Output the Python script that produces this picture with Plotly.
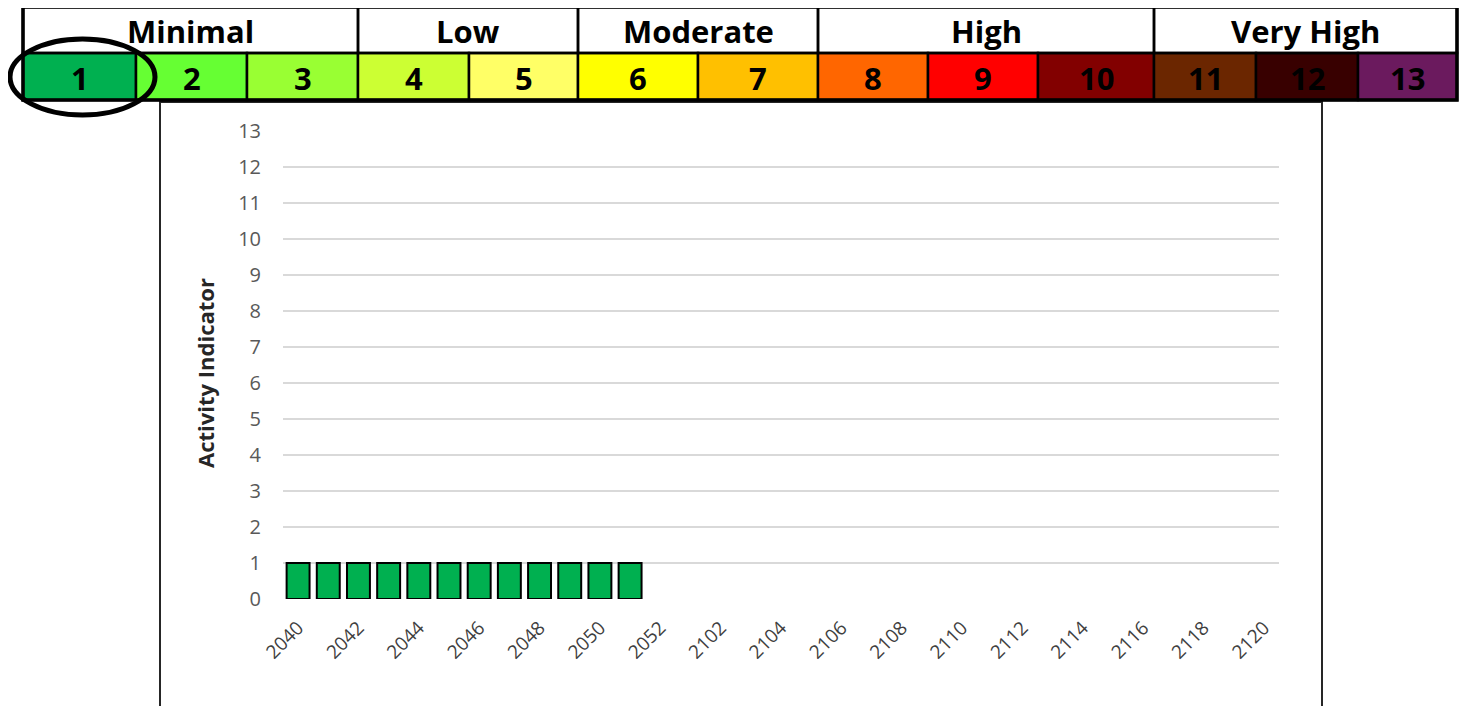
import plotly.graph_objects as go

# page body has an 8px margin, so the figure is drawn at (8, 8) in the 1467x706 window
OFF = 8
W, H = 1467 - OFF, 706 - OFF

# ---------------- data ----------------
categories = ["2040", "2041", "2042", "2043", "2044", "2045", "2046", "2047", "2048",
              "2049", "2050", "2051", "2052", "2101", "2102", "2103", "2104", "2105",
              "2106", "2107", "2108", "2109", "2110", "2111", "2112", "2113", "2114",
              "2115", "2116", "2117", "2118", "2119", "2120"]
bar_categories = ["2040", "2041", "2042", "2043", "2044", "2045",
                  "2046", "2047", "2048", "2049", "2050", "2051"]
activity = [1, 1, 1, 1, 1, 1, 1, 1, 1, 1, 1, 1]
tick_labels = categories[::2]
y_ticks = list(range(0, 14))

levels = ["1", "2", "3", "4", "5", "6", "7", "8", "9", "10", "11", "12", "13"]
level_colors = ["#00B050", "#66FF33", "#99FF33", "#CCFF33", "#FFFF66", "#FFFF00", "#FFC000",
                "#FF6600", "#FF0000", "#820000", "#6B2600", "#380000", "#6B1A5E"]
group_names = ["Minimal", "Low", "Moderate", "High", "Very High"]
group_sizes = [3, 2, 2, 3, 3]

# ---------------- layout helpers (page pixels -> paper fractions) ----------------
def px(x):
    return (x - OFF) / W


def py(y):
    return 1 - (y - OFF) / H


FONT = "Open Sans"
cell_edges = [23, 136, 247, 358, 469, 578, 698, 818, 928, 1038, 1154, 1256, 1358, 1457]
table_top, table_mid, table_bot = 7, 53, 100

fig = go.Figure()
fig.add_trace(go.Bar(
    x=bar_categories, y=activity,
    marker=dict(color="#00B050", line=dict(color="#000000", width=2)),
    hoverinfo="x+y", showlegend=False,
))

shapes = []
annotations = []

# chart frame
shapes.append(dict(type="rect", xref="paper", yref="paper",
                   x0=px(160), x1=px(1322), y0=py(730), y1=py(102),
                   line=dict(color="#262626", width=2), fillcolor="rgba(0,0,0,0)", layer="below"))

# header: white background for group row
shapes.append(dict(type="rect", xref="paper", yref="paper",
                   x0=px(cell_edges[0]), x1=px(cell_edges[-1]), y0=py(table_mid), y1=py(table_top),
                   fillcolor="#FFFFFF", line=dict(width=0), layer="above"))
# level cells
for i, (lab, col) in enumerate(zip(levels, level_colors)):
    x0, x1 = cell_edges[i], cell_edges[i + 1]
    shapes.append(dict(type="rect", xref="paper", yref="paper",
                       x0=px(x0), x1=px(x1), y0=py(table_bot), y1=py(table_mid),
                       fillcolor=col, line=dict(color="#000000", width=2.5), layer="above"))
    annotations.append(dict(xref="paper", yref="paper", x=px((x0 + x1) / 2), y=py(78),
                            text="<b>%s</b>" % lab, showarrow=False,
                            font=dict(family=FONT, size=31, color="#000000"),
                            xanchor="center", yanchor="middle"))
# group cells
k = 0
for name, n in zip(group_names, group_sizes):
    x0, x1 = cell_edges[k], cell_edges[k + n]
    shapes.append(dict(type="rect", xref="paper", yref="paper",
                       x0=px(x0), x1=px(x1), y0=py(table_mid), y1=py(table_top),
                       fillcolor="rgba(0,0,0,0)", line=dict(color="#000000", width=2.5), layer="above"))
    annotations.append(dict(xref="paper", yref="paper", x=px((x0 + x1) / 2), y=py(31),
                            text="<b>%s</b>" % name, showarrow=False,
                            font=dict(family=FONT, size=31, color="#000000"),
                            xanchor="center", yanchor="middle"))
    k += n
# outer table border
shapes.append(dict(type="rect", xref="paper", yref="paper",
                   x0=px(cell_edges[0]), x1=px(cell_edges[-1]), y0=py(table_bot), y1=py(table_top),
                   fillcolor="rgba(0,0,0,0)", line=dict(color="#000000", width=3.5), layer="above"))
# highlight ellipse around current level
shapes.append(dict(type="circle", xref="paper", yref="paper",
                   x0=px(10), x1=px(155), y0=py(115), y1=py(39),
                   fillcolor="rgba(0,0,0,0)", line=dict(color="#000000", width=5), layer="above"))

# y-axis title
annotations.append(dict(xref="paper", yref="paper", x=px(205), y=py(373),
                        text="<b>Activity Indicator</b>", showarrow=False, textangle=-90,
                        font=dict(family=FONT, size=22, color="#262626"),
                        xanchor="center", yanchor="middle"))

fig.update_layout(
    template="none",
    width=W, height=H,
    margin=dict(l=0, r=0, t=0, b=0, pad=0, autoexpand=False),
    paper_bgcolor="#FFFFFF", plot_bgcolor="#FFFFFF",
    bargap=0.24,
    shapes=shapes, annotations=annotations,
    xaxis=dict(domain=[px(283), px(1279)], automargin=False,
               type="category", categoryorder="array", categoryarray=categories,
               range=[-0.5, len(categories) - 0.5],
               tickmode="array", tickvals=tick_labels, ticktext=tick_labels,
               tickangle=-45, tickfont=dict(family=FONT, size=19, color="#404040"),
               showgrid=False, showline=False, zeroline=False, ticks="",
               ticklabelstandoff=13),
    yaxis=dict(domain=[py(599), py(131)], range=[0, 13], automargin=False,
               tickmode="array", tickvals=y_ticks,
               tickfont=dict(family=FONT, size=20, color="#595959"),
               showgrid=True, gridcolor="#D9D9D9", gridwidth=1.5,
               zeroline=False, showline=False, ticks="", ticklabelstandoff=21),
    font=dict(family=FONT),
)

fig.write_html("out.html")
